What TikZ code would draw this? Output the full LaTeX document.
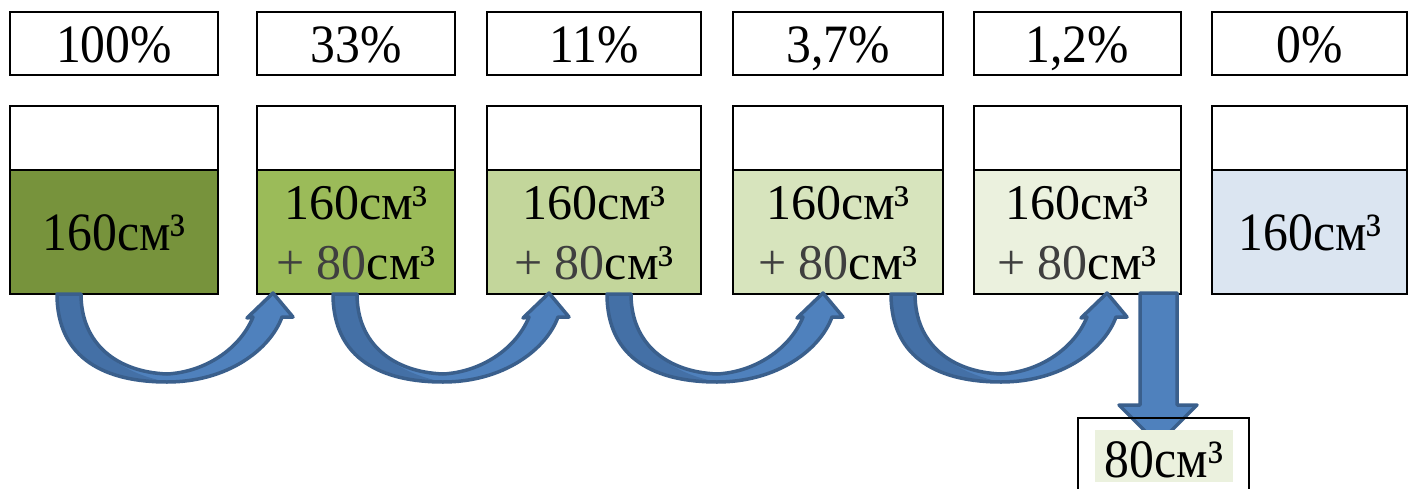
\documentclass[tikz,border=0pt]{standalone}
\usepackage{fontspec}
\setmainfont{Liberation Serif}
\newfontfamily\narrowf[FakeStretch=0.92]{Liberation Serif}
\definecolor{gA}{HTML}{77933C}
\definecolor{gB}{HTML}{9BBB59}
\definecolor{gC}{HTML}{C3D69B}
\definecolor{gD}{HTML}{D7E4BD}
\definecolor{gE}{HTML}{EBF1DE}
\definecolor{bF}{HTML}{DBE5F1}
\definecolor{arrlight}{HTML}{4F81BD}
\definecolor{arrdark}{HTML}{4470A6}
\definecolor{arredge}{HTML}{3A5F8C}
\definecolor{txtgray}{HTML}{3F3F3F}
\tikzset{
  boxline/.style={draw=black,line width=1.3pt},
  pct/.style={anchor=base,inner sep=0pt,font=\narrowf\fontsize{54}{60}\selectfont},
  vol/.style={anchor=base,inner sep=0pt,font=\narrowf\fontsize{54}{60}\selectfont},
  vol2/.style={anchor=base,inner sep=0pt,font=\fontsize{50}{60}\selectfont},
  arredgest/.style={draw=arredge,line width=3.5pt,line join=round},
}
\newcommand\curvedarr[1]{%
  \begin{scope}[shift={(#1,294)}]
    \fill[arrlight] (0,0) .. controls (0,66) and (50,88) .. (110,88) .. controls (170,88) and (213,56) .. (225,23) -- (236,23) -- (216,-1) -- (190,24) -- (196,23) .. controls (183,55) and (148,78) .. (110,80) .. controls (60,78) and (24,50) .. (24,0) -- cycle;
    \fill[arrdark] (0,0) .. controls (0,66) and (50,88) .. (110,88) .. controls (60,78) and (24,50) .. (24,0) -- cycle;
    \draw[arredgest] (0,0) .. controls (0,66) and (50,88) .. (110,88) .. controls (170,88) and (213,56) .. (225,23) -- (236,23) -- (216,-1) -- (190,24) -- (196,23) .. controls (183,55) and (148,78) .. (110,80) .. controls (60,78) and (24,50) .. (24,0) -- cycle;
  \end{scope}}
\begin{document}
\begin{tikzpicture}[x=1pt,y=-1pt]
\useasboundingbox (0,0) rectangle (1408,488);
\clip (0,0) rectangle (1408,488);
\fill[white] (0,0) rectangle (1408,488);

% top percentage boxes
\draw[boxline] (10,12) rectangle (218,75);
\draw[boxline] (257,12) rectangle (455,75);
\draw[boxline] (487,12) rectangle (701,75);
\draw[boxline] (733,12) rectangle (943,75);
\draw[boxline] (974,12) rectangle (1181,75);
\draw[boxline] (1212,12) rectangle (1407,75);
\node[pct] (p1) at (114,62) {100\%};
\node[pct] (p2) at (356,62) {33\%};
\node[pct] (p3) at (594,62) {11\%};
\node[pct] (p4) at (838,62) {3,7\%};
\node[pct] (p5) at (1077,62) {1,2\%};
\node[pct] (p6) at (1310,62) {0\%};

% lower boxes: fills
\fill[gA] (10,170) rectangle (218,294);
\fill[gB] (257,170) rectangle (455,294);
\fill[gC] (487,170) rectangle (701,294);
\fill[gD] (733,170) rectangle (943,294);
\fill[gE] (974,170) rectangle (1181,294);
\fill[bF] (1212,170) rectangle (1407,294);
% lower boxes: outlines and dividers
\foreach \l/\r in {10/218,257/455,487/701,733/943,974/1181,1212/1407}{
  \draw[boxline] (\l,106) rectangle (\r,294);
  \draw[boxline] (\l,170) -- (\r,170);
}

% texts
\node[vol] (v1) at (114,250) {160см³};
\node[vol] (v6) at (1310,250) {160см³};
\foreach \c/\n in {356/2,594/3,838/4,1077/5}{
  \node[vol2] (a\n) at (\c,219) {160см³};
  \node[vol2] (b\n) at (\c,279) {\textcolor{txtgray}{+ 80}см³};
}

% curved arrows
\curvedarr{57}
\curvedarr{333}
\curvedarr{607}
\curvedarr{891}

% down arrow
\filldraw[fill=arrlight,arredgest] (1140,293) -- (1177,293) -- (1177,405) -- (1197,405) -- (1158,444) -- (1119,405) -- (1140,405) -- cycle;

% bottom box
\draw[boxline] (1078,418) rectangle (1249,500);
\fill[gE] (1095,430) rectangle (1233,482);
\node[vol] (res) at (1164,477) {80см³};
\end{tikzpicture}
\end{document}
